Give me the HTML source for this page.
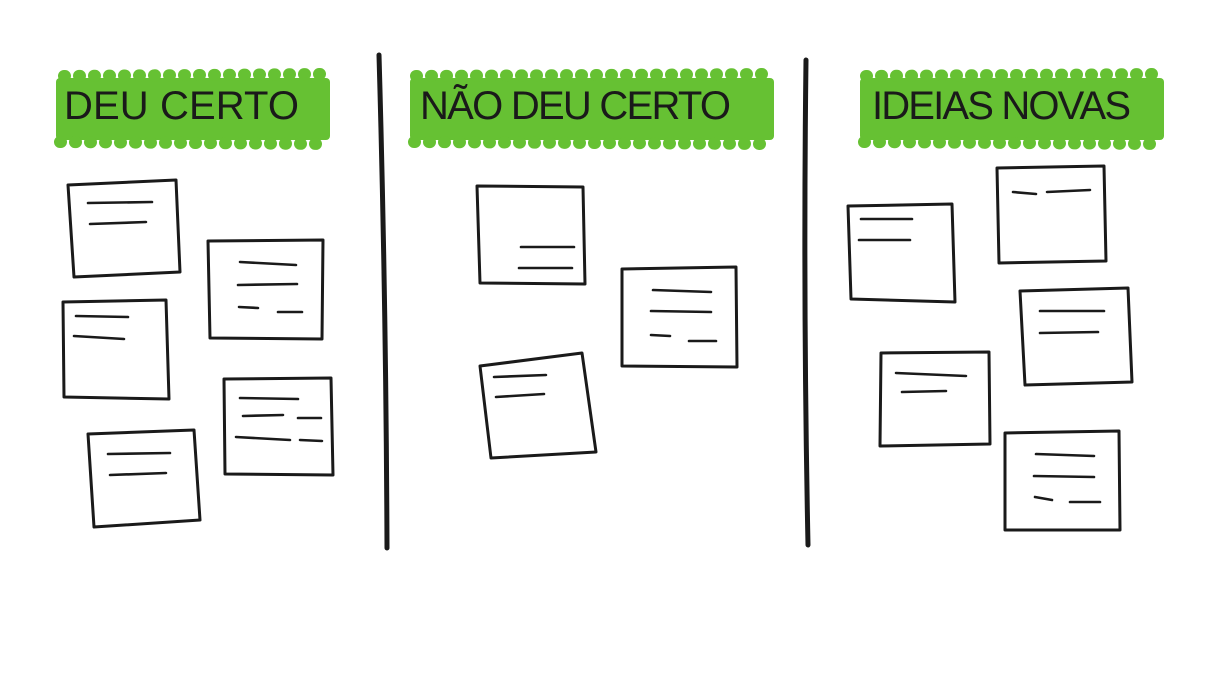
<!DOCTYPE html>
<html><head><meta charset="utf-8"><style>
html,body{margin:0;padding:0;background:#fff;}
svg{display:block}
.h{font-family:"Liberation Sans",sans-serif;font-size:40px;fill:#1a1a1a;letter-spacing:1px}
.n{fill:#fff;stroke:#1a1a1a;stroke-width:3;stroke-linejoin:round}
.l{fill:none;stroke:#1a1a1a;stroke-width:2.6;stroke-linecap:round}
.g{fill:#66c133}
.gd{stroke:#66c133;stroke-width:12;stroke-dasharray:1 14;stroke-linecap:round}
</style></head><body>
<svg width="1230" height="684" viewBox="0 0 1230 684">
<!-- headers -->
<rect class="g" x="56" y="78" width="274" height="62" rx="4"/>
<line class="gd" x1="64" y1="76" x2="326" y2="74"/><line class="gd" x1="60" y1="142" x2="326" y2="144"/>
<rect class="g" x="410" y="78" width="364" height="62" rx="4"/>
<line class="gd" x1="416" y1="76" x2="772" y2="74"/><line class="gd" x1="414" y1="142" x2="770" y2="144"/>
<rect class="g" x="860" y="78" width="304" height="62" rx="4"/>
<line class="gd" x1="866" y1="76" x2="1160" y2="74"/><line class="gd" x1="864" y1="142" x2="1160" y2="144"/>
<text class="h" x="64" y="119" textLength="236">DEU CERTO</text>
<text class="h" x="420" y="119" textLength="312">NÃO DEU CERTO</text>
<text class="h" x="872" y="119" textLength="260">IDEIAS NOVAS</text>
<!-- dividers -->
<path d="M379 55 Q386 300 387 548" fill="none" stroke="#1a1a1a" stroke-width="5" stroke-linecap="round"/>
<path d="M806 60 Q803 300 808 545" fill="none" stroke="#1a1a1a" stroke-width="5" stroke-linecap="round"/>
<!-- notes left -->
<polygon class="n" points="68,185 176,180 180,272 74,277"/>
<path class="l" d="M88 203 L152 202 M90 224 L146 222"/>
<polygon class="n" points="208,241 323,240 322,339 210,338"/>
<path class="l" d="M240 262 L296 265 M238 285 L297 284 M239 307 L258 308 M278 312 L302 312"/>
<polygon class="n" points="63,302 166,300 169,399 64,397"/>
<path class="l" d="M76 316 L128 317 M74 336 L124 339"/>
<polygon class="n" points="224,379 331,378 333,475 225,474"/>
<path class="l" d="M240 398 L298 399 M243 416 L283 415 M298 418 L321 418 M236 437 L290 440 M300 440 L322 441"/>
<polygon class="n" points="88,434 194,430 200,520 94,527"/>
<path class="l" d="M108 454 L170 453 M110 475 L166 473"/>
<!-- notes middle -->
<polygon class="n" points="477,186 583,187 585,284 480,283"/>
<path class="l" d="M521 247 L574 247 M519 268 L572 268"/>
<polygon class="n" points="622,269 736,267 737,367 622,366"/>
<path class="l" d="M653 290 L711 292 M651 311 L711 312 M651 335 L670 336 M689 341 L716 341"/>
<polygon class="n" points="480,366 582,353 596,452 491,458"/>
<path class="l" d="M494 377 L546 375 M496 397 L544 394"/>
<!-- notes right -->
<polygon class="n" points="848,206 952,204 955,302 851,299"/>
<path class="l" d="M861 219 L912 219 M859 240 L910 240"/>
<polygon class="n" points="997,168 1104,166 1106,261 999,263"/>
<path class="l" d="M1013 192 L1036 194 M1047 192 L1090 190"/>
<polygon class="n" points="1020,291 1128,288 1132,382 1025,385"/>
<path class="l" d="M1040 311 L1104 311 M1040 333 L1098 332"/>
<polygon class="n" points="881,353 989,352 990,444 880,446"/>
<path class="l" d="M896 373 L966 376 M902 392 L946 391"/>
<polygon class="n" points="1005,433 1119,431 1120,530 1005,530"/>
<path class="l" d="M1036 454 L1094 456 M1034 476 L1094 477 M1035 497 L1052 500 M1070 502 L1100 502"/>
</svg>
</body></html>
